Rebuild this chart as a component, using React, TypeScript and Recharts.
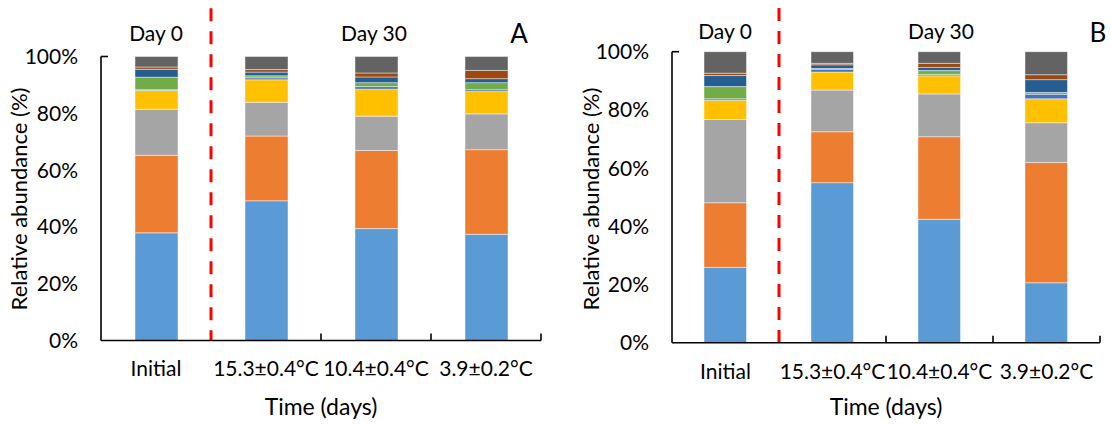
import React from 'react';
import { BarChart, Bar, XAxis, YAxis, ReferenceLine } from 'recharts';

const categories = ['Initial', '15.3±0.4°C', '10.4±0.4°C', '3.9±0.2°C'];
const yTicks = [0, 20, 40, 60, 80, 100];

const seriesKeys = ['s1', 's2', 's3', 's4', 's5', 's6', 's7', 's8', 's9'];
const seriesColors = ['#5B9BD5', '#ED7D31', '#A5A5A5', '#FFC000', '#4472C4', '#70AD47', '#255E91', '#9E480E', '#636363'];

// panel A, stacked bottom to top (%)
const a1 = [37.9, 49.2, 39.4, 37.4];
const a2 = [27.3, 22.8, 27.5, 29.8];
const a3 = [16.2, 11.9, 12.1, 12.6];
const a4 = [6.6, 7.9, 9.5, 7.9];
const a5 = [0.3, 0.7, 0.9, 0.6];
const a6 = [4.4, 0.7, 1.4, 2.5];
const a7 = [2.8, 1.3, 2.0, 1.4];
const a8 = [0.8, 0.9, 1.4, 2.9];
const a9 = [3.7, 4.6, 5.8, 4.9];

// panel B
const b1 = [25.9, 55.0, 42.4, 20.6];
const b2 = [22.2, 17.5, 28.4, 41.3];
const b3 = [28.6, 14.3, 14.7, 13.7];
const b4 = [6.6, 6.2, 6.2, 8.2];
const b5 = [0.5, 1.0, 0.5, 1.6];
const b6 = [4.2, 0.2, 1.3, 0.6];
const b7 = [3.8, 1.3, 1.1, 4.4];
const b8 = [0.8, 0.5, 1.4, 1.7];
const b9 = [7.4, 4.0, 4.0, 7.9];

const font = "Lato, 'Open Sans', sans-serif";

const buildRows = (series: number[][]) =>
  categories.map((name, i) => {
    const row: Record<string, any> = { name };
    seriesKeys.forEach((k, j) => {
      row[k] = series[j][i];
    });
    return row;
  });

const rowsA = buildRows([a1, a2, a3, a4, a5, a6, a7, a8, a9]);
const rowsB = buildRows([b1, b2, b3, b4, b5, b6, b7, b8, b9]);

// tick marks between categories (start of bands 2..4, end of the last one)
const boundaries: { cat: string; pos: 'start' | 'end' }[] = [
  ...categories.slice(1).map((c) => ({ cat: c, pos: 'start' as const })),
  { cat: categories[categories.length - 1], pos: 'end' },
];

interface PanelProps {
  rows: any[];
  width: number;
  yAxisWidth: number;
  top: number;
  right: number;
  xAxisHeight: number;
  barSize: number;
  dashTop: number;
  tickLen: number;
}

const Panel: React.FC<PanelProps> = (p) => (
  <BarChart
    width={p.width}
    height={425}
    data={p.rows}
    margin={{ top: p.top, right: p.right, bottom: 0, left: 0 }}
    barSize={p.barSize}
  >
    <XAxis
      dataKey="name"
      interval={0}
      height={p.xAxisHeight}
      tickLine={false}
      tickSize={0}
      tickMargin={21}
      axisLine={{ stroke: '#000', strokeWidth: 1.6 }}
      tick={{ fontSize: 21, fill: '#000', fontFamily: font }}
    />
    <YAxis
      domain={[0, 100]}
      ticks={yTicks}
      width={p.yAxisWidth}
      tickFormatter={(v) => `${v}%`}
      tickLine={false}
      tickSize={0}
      tickMargin={23}
      axisLine={{ stroke: '#000', strokeWidth: 1.6 }}
      tick={{ fontSize: 21, fill: '#000', fontFamily: font }}
    />
    {seriesKeys.map((k, j) => (
      <Bar
        key={k}
        dataKey={k}
        stackId="a"
        fill={seriesColors[j]}
        stroke="#ffffff"
        strokeOpacity={0.6}
        strokeWidth={0.75}
        isAnimationActive={false}
      />
    ))}
    {boundaries.map((b, i) => (
      <ReferenceLine
        key={i}
        position={b.pos}
        segment={[{ x: b.cat, y: 0 }, { x: b.cat, y: p.tickLen }]}
        stroke="#000"
        strokeWidth={1.6}
        ifOverflow="visible"
      />
    ))}
    <ReferenceLine
      position="start"
      segment={[{ x: categories[1], y: p.dashTop }, { x: categories[1], y: 0 }]}
      stroke="#FF0000"
      strokeWidth={3}
      strokeDasharray="13 10"
      ifOverflow="visible"
    />
  </BarChart>
);

const textStyle = { fontFamily: font, fill: '#000' };

export default function App() {
  return (
    <div style={{ position: 'absolute', left: 0, top: 0, width: 1111, height: 425, background: '#fff' }}>
      <div style={{ position: 'absolute', left: 0, top: 0 }}>
        <Panel rows={rowsA} width={560} yAxisWidth={101} top={56.5} right={19} xAxisHeight={84.5}
          barSize={43} dashTop={117} tickLen={2.5} />
      </div>
      <div style={{ position: 'absolute', left: 560, top: 0 }}>
        <Panel rows={rowsB} width={551} yAxisWidth={112} top={51.7} right={11} xAxisHeight={82.3}
          barSize={42.5} dashTop={115} tickLen={2.4} />
      </div>
      <svg width={1111} height={425} style={{ position: 'absolute', left: 0, top: 0, pointerEvents: 'none' }}>
        <g style={textStyle}>
          <line x1={101} y1={56.5} x2={108} y2={56.5} stroke="#000" strokeWidth={1.6} />
          <line x1={672} y1={51.7} x2={679} y2={51.7} stroke="#000" strokeWidth={1.6} />
          <text x={156} y={40.7} fontSize={21} textAnchor="middle" style={textStyle}>Day 0</text>
          <text x={374} y={40.7} fontSize={21} textAnchor="middle" style={textStyle}>Day 30</text>
          <text x={519} y={42.7} fontSize={26} textAnchor="middle" style={textStyle}>A</text>
          <text x={725} y={39} fontSize={21} textAnchor="middle" style={textStyle}>Day 0</text>
          <text x={941} y={39} fontSize={21} textAnchor="middle" style={textStyle}>Day 30</text>
          <text x={1098} y={41.7} fontSize={26} textAnchor="middle" style={textStyle}>B</text>
          <text x={26.6} y={199} fontSize={22} textAnchor="middle" transform="rotate(-90, 26.6, 199)" style={textStyle}>Relative abundance (%)</text>
          <text x={599} y={199} fontSize={22} textAnchor="middle" transform="rotate(-90, 599, 199)" style={textStyle}>Relative abundance (%)</text>
          <text x={321} y={415} fontSize={23} textAnchor="middle" style={textStyle}>Time (days)</text>
          <text x={886} y={415} fontSize={23} textAnchor="middle" style={textStyle}>Time (days)</text>
        </g>
      </svg>
    </div>
  );
}
